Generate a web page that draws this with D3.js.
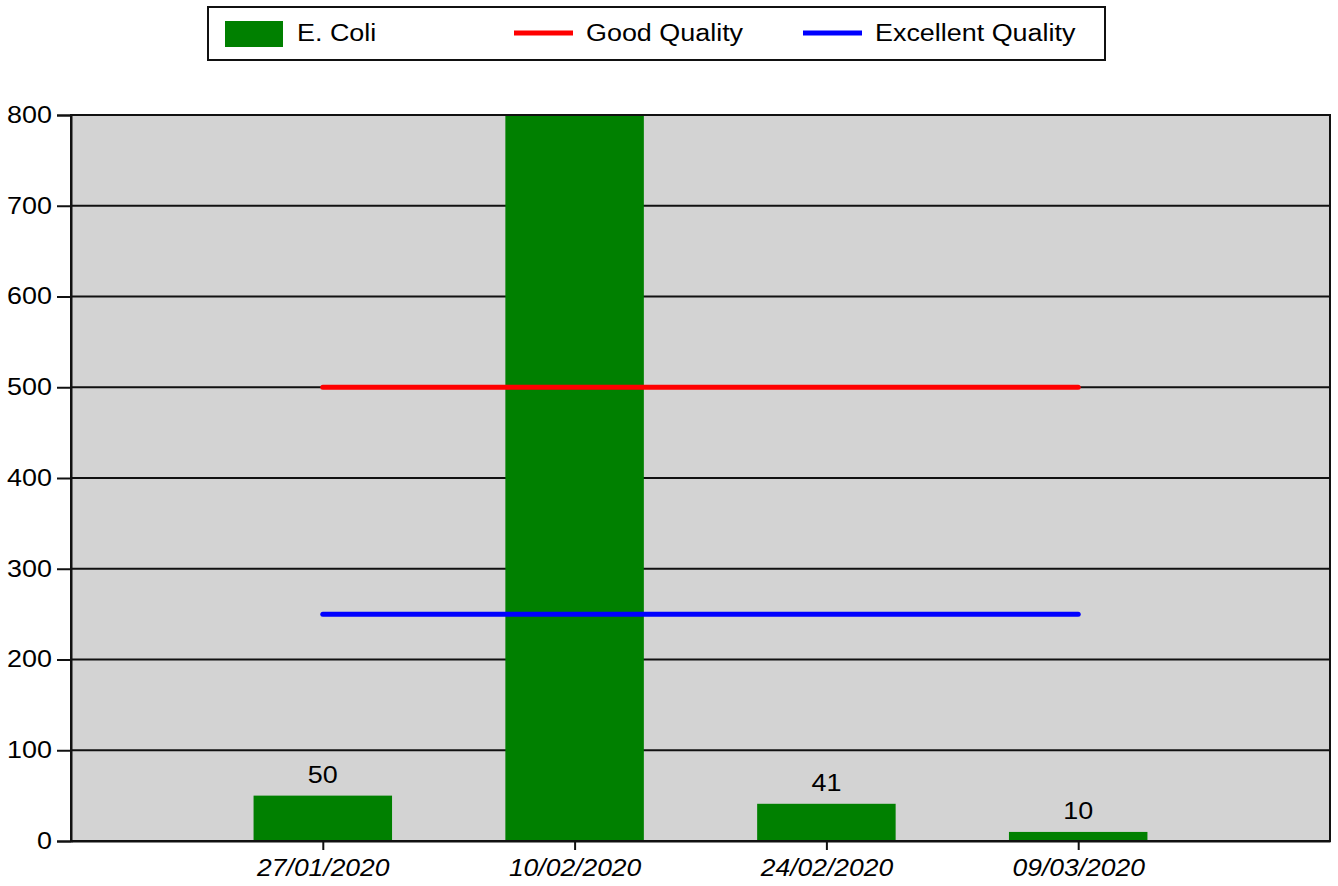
<!DOCTYPE html>
<html>
<head>
<meta charset="utf-8">
<script src="https://cdn.jsdelivr.net/npm/d3@7"></script>
<style>
  html, body { margin: 0; padding: 0; background: #fff; }
  svg { display: block; font-family: "Liberation Sans", Arial, sans-serif; }
</style>
</head>
<body>
<svg id="chart" width="1338" height="886"></svg>
<script>
// ---- data ----
const dates = ["27/01/2020", "10/02/2020", "24/02/2020", "09/03/2020"];
const eColi = [50, 1000, 41, 10];
const goodQuality = [500, 500, 500, 500];
const excellentQuality = [250, 250, 250, 250];
const yTicks = [0, 100, 200, 300, 400, 500, 600, 700, 800];
const legendLabels = ["E. Coli", "Good Quality", "Excellent Quality"];
const colors = { bar: "#008000", good: "#ff0000", excellent: "#0000ff", bg: "#d3d3d3" };

// ---- layout ----
const svg = d3.select("#chart");
const m = { left: 71, right: 1330, top: 115, bottom: 841 };
const yMax = 800;
const FS = 23;

// horizontally widen text to match the reference's wider glyphs
function stretch(sel, k) {
  sel.each(function () {
    const w = this.getComputedTextLength();
    d3.select(this).attr("textLength", w * k).attr("lengthAdjust", "spacingAndGlyphs");
  });
}

const x = d3.scalePoint().domain(dates).range([m.left, m.right]).padding(1);
const y = d3.scaleLinear().domain([0, yMax]).range([m.bottom, m.top]);
const barW = x.step() * 0.55;

svg.append("defs").append("clipPath").attr("id", "plotclip")
  .append("rect").attr("x", m.left).attr("y", m.top)
  .attr("width", m.right - m.left).attr("height", m.bottom - m.top);

// background
svg.append("rect").attr("x", m.left).attr("y", m.top)
  .attr("width", m.right - m.left).attr("height", m.bottom - m.top)
  .attr("fill", colors.bg);

// grid lines
svg.append("g").selectAll("line").data(yTicks).join("line")
  .attr("x1", m.left).attr("x2", m.right)
  .attr("y1", d => y(d)).attr("y2", d => y(d))
  .attr("stroke", "#111").attr("stroke-width", 1.8);

const plot = svg.append("g").attr("clip-path", "url(#plotclip)");

// bars
plot.selectAll("rect.bar").data(dates).join("rect").attr("class", "bar")
  .attr("x", d => x(d) - barW / 2)
  .attr("width", barW)
  .attr("y", (d, i) => y(Math.min(eColi[i], yMax)))
  .attr("height", (d, i) => y(0) - y(Math.min(eColi[i], yMax)))
  .attr("fill", colors.bar);

// value labels (only those that fit inside the plot)
const visible = dates.map((d, i) => ({ d, v: eColi[i] })).filter(o => o.v < yMax * 0.95);
svg.append("g").selectAll("text.val").data(visible).join("text").attr("class", "val")
  .attr("x", o => x(o.d))
  .attr("y", o => y(o.v) - 13)
  .attr("text-anchor", "middle")
  .attr("font-size", FS)
  .attr("fill", "#000")
  .text(o => o.v)
  .call(stretch, 1.17);

// threshold lines
const line = d3.line().x(d => x(d[0])).y(d => y(d[1]));
plot.append("path").datum(dates.map((d, i) => [d, goodQuality[i]]))
  .attr("d", line).attr("fill", "none").attr("stroke", colors.good)
  .attr("stroke-width", 5).attr("stroke-linecap", "round");
plot.append("path").datum(dates.map((d, i) => [d, excellentQuality[i]]))
  .attr("d", line).attr("fill", "none").attr("stroke", colors.excellent)
  .attr("stroke-width", 5).attr("stroke-linecap", "round");

// plot border
svg.append("rect").attr("x", m.left).attr("y", m.top)
  .attr("width", m.right - m.left).attr("height", m.bottom - m.top)
  .attr("fill", "none").attr("stroke", "#111").attr("stroke-width", 2);

// y axis
const yAxis = svg.append("g").attr("transform", `translate(${m.left},0)`)
  .call(d3.axisLeft(y).tickValues(yTicks).tickSize(14).tickPadding(5));
yAxis.select(".domain").attr("stroke", "#111").attr("stroke-width", 2);
yAxis.selectAll(".tick line").attr("stroke", "#111").attr("stroke-width", 2);
yAxis.selectAll(".tick text").attr("font-size", FS).attr("fill", "#000")
  .attr("font-family", "Liberation Sans, Arial, sans-serif")
  .call(stretch, 1.17);

// x axis
const xAxis = svg.append("g").attr("transform", `translate(0,${m.bottom})`)
  .call(d3.axisBottom(x).tickSize(9).tickPadding(6).tickSizeOuter(0));
xAxis.select(".domain").attr("stroke", "#111").attr("stroke-width", 2);
xAxis.selectAll(".tick line").attr("stroke", "#111").attr("stroke-width", 2);
xAxis.selectAll(".tick text").attr("font-size", FS).attr("font-style", "italic")
  .attr("fill", "#000").attr("font-family", "Liberation Sans, Arial, sans-serif")
  .attr("dy", "0.85em")
  .call(stretch, 1.15);

// legend
const lg = svg.append("g");
lg.append("rect").attr("x", 208).attr("y", 7).attr("width", 897).attr("height", 53)
  .attr("fill", "#fff").attr("stroke", "#111").attr("stroke-width", 2);
const legendItems = [
  { label: legendLabels[0], type: "rect", color: colors.bar, x: 225 },
  { label: legendLabels[1], type: "line", color: colors.good, x: 514 },
  { label: legendLabels[2], type: "line", color: colors.excellent, x: 803 }
];
legendItems.forEach(it => {
  if (it.type === "rect") {
    lg.append("rect").attr("x", it.x).attr("y", 21).attr("width", 58).attr("height", 26)
      .attr("fill", it.color);
  } else {
    lg.append("line").attr("x1", it.x).attr("x2", it.x + 59).attr("y1", 33).attr("y2", 33)
      .attr("stroke", it.color).attr("stroke-width", 5);
  }
  lg.append("text").attr("x", it.x + 72).attr("y", 33).attr("dy", "0.35em")
    .attr("font-size", FS).attr("fill", "#000").text(it.label)
    .call(stretch, 1.17);
});
</script>
</body>
</html>
